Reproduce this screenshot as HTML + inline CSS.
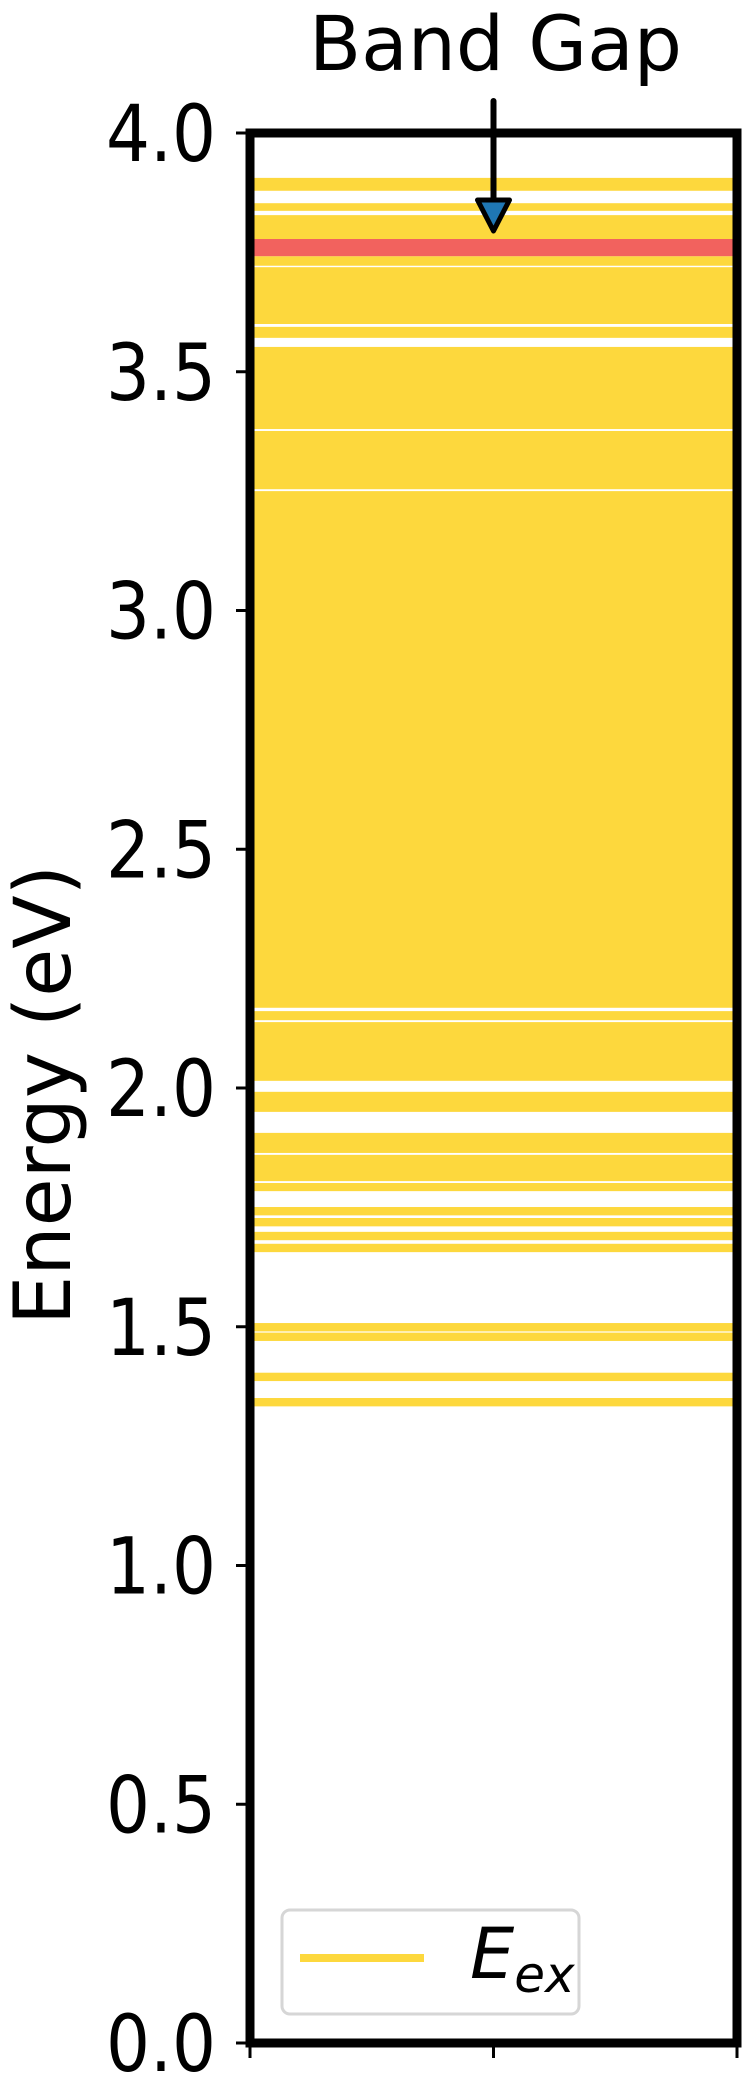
<!DOCTYPE html>
<html><head><meta charset="utf-8"><style>
html,body{margin:0;padding:0;background:#fff;}
svg{display:block;font-family:"DejaVu Sans","Liberation Sans",sans-serif;}
</style></head><body>
<svg id="chart" width="750" height="2100" viewBox="0 0 750 2100" xmlns="http://www.w3.org/2000/svg">
<g id="bands"></g>
<g id="axes"></g>
</svg>
<script>
// Continuous yellow excitation bands [lowE, highE] (eV)
const bandLow  = [3.879,3.837,3.778,3.722,3.600,3.571,3.380,3.254,2.168,2.142,2.015,1.950,1.864,1.805,1.784];
const bandHigh = [3.906,3.853,3.828,3.742,3.719,3.594,3.552,3.376,3.250,2.161,2.138,1.992,1.906,1.860,1.801];
// Isolated excitation lines (eV)
const lineLevels = [1.742,1.719,1.690,1.665,1.499,1.479,1.395,1.342];
// Band gap level (eV)
const gapLow = [3.742];
const gapHigh = [3.778];
const yTicks = [0.0,0.5,1.0,1.5,2.0,2.5,3.0,3.5,4.0];
const yTickLabels = ["0.0","0.5","1.0","1.5","2.0","2.5","3.0","3.5","4.0"];
const xTicks = [0,0.5,1];

const NS="http://www.w3.org/2000/svg";
const X0=250,X1=737,Y0=2043,Y1=133,EMIN=0,EMAX=4;
const yS=e=>Y0-(e-EMIN)/(EMAX-EMIN)*(Y0-Y1);
const xS=v=>X0+v*(X1-X0);
const LW=0.0175;
const bands=document.getElementById('bands');
const axes=document.getElementById('axes');
function mk(tag,attrs,parent){const el=document.createElementNS(NS,tag);for(const k in attrs)el.setAttribute(k,attrs[k]);parent.appendChild(el);return el;}

bandLow.forEach((lo,i)=>{
  const r=mk('rect',{x:X0+4,y:yS(bandHigh[i]),width:X1-X0-8,height:yS(lo)-yS(bandHigh[i]),fill:'#fdd83d'},bands);
  
  
});
lineLevels.forEach(e=>{
  const r=mk('rect',{x:X0+4,y:yS(e+LW/2),width:X1-X0-8,height:yS(e-LW/2)-yS(e+LW/2),fill:'#fdd83d'},bands);
  
  
});
gapLow.forEach((lo,i)=>{
  const r=mk('rect',{x:X0+4,y:yS(gapHigh[i]),width:X1-X0-8,height:yS(lo)-yS(gapHigh[i]),fill:'#f2625e'},bands);
  
  
});

yTicks.forEach((t,i)=>{
  const tk=mk('line',{x1:236,x2:X0,y1:yS(t),y2:yS(t),stroke:'#000','stroke-width':3},axes);
  
  
  const tl=mk('text',{x:106,y:yS(t)+28,'font-size':78,fill:'#000',textLength:110,lengthAdjust:'spacingAndGlyphs'},axes);
  tl.textContent=yTickLabels[i];
  
  
});
xTicks.forEach(t=>{
  const tk=mk('line',{x1:xS(t),x2:xS(t),y1:Y0,y2:2058,stroke:'#000','stroke-width':3},axes);
  
  
});
const frame=mk('rect',{x:X0,y:Y1,width:X1-X0,height:Y0-Y1,fill:'none',stroke:'#000','stroke-width':9},axes);



const yl=mk('text',{x:0,y:0,transform:'translate(70,1095) rotate(-90)','text-anchor':'middle','font-size':78,fill:'#000'},axes);
yl.textContent='Energy (eV)';



const ax=xS(0.5);
const ann=mk('text',{x:ax+2,y:70,'text-anchor':'middle','font-size':76,fill:'#000'},axes);
ann.textContent='Band Gap';


const shaft=mk('line',{x1:ax,x2:ax,y1:101,y2:200,stroke:'#000','stroke-width':6,'stroke-linecap':'round'},axes);


const head=mk('polygon',{points:`${ax-16},200 ${ax+16},200 ${ax},231`,fill:'#1f77b4',stroke:'#000','stroke-width':5,'stroke-linejoin':'round'},axes);



const lg=mk('g',{},axes);


mk('rect',{x:282,y:1910,width:297,height:104,rx:8,fill:'#fff',stroke:'#d6d6d6','stroke-width':3},lg);
const ll=mk('line',{x1:300,x2:424,y1:1958,y2:1958,stroke:'#fdd83d','stroke-width':8},lg);


const lt=mk('text',{x:470,y:1978,'font-size':70,'font-style':'italic',fill:'#000'},lg);
lt.innerHTML='E<tspan font-size="50" dy="14">ex</tspan>';


</script>
</body></html>
